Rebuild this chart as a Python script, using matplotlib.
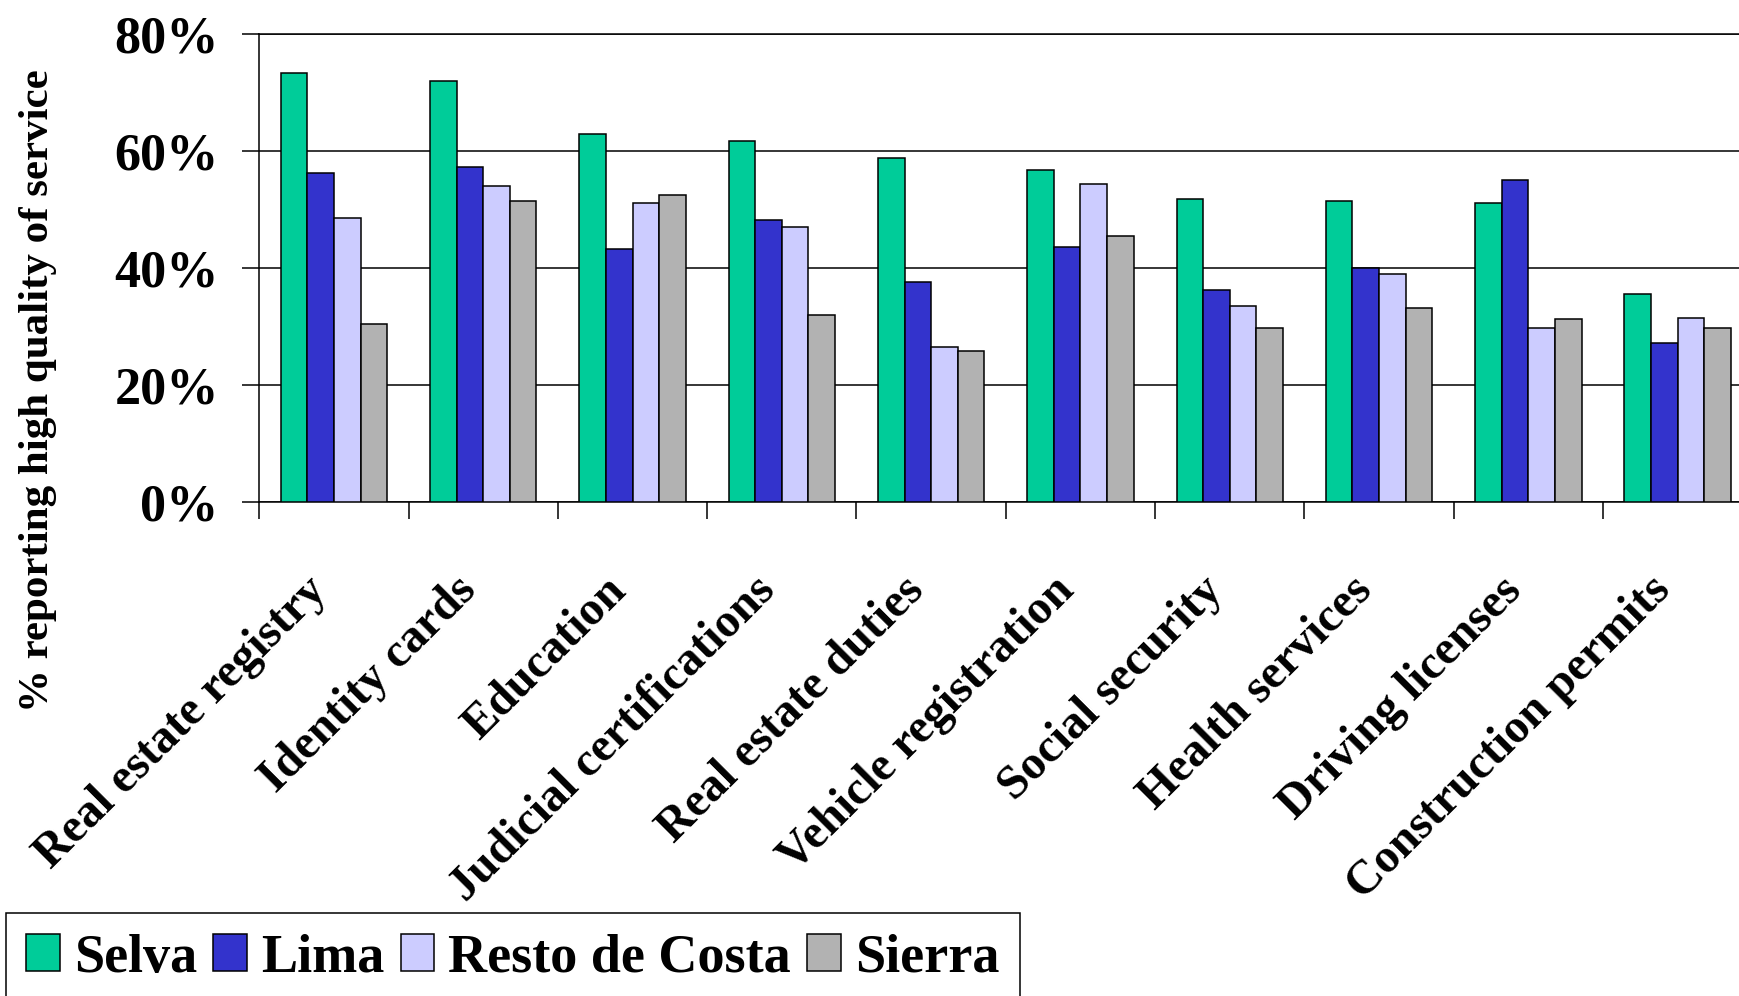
import matplotlib
matplotlib.use("Agg")
import matplotlib.pyplot as plt
import matplotlib.transforms as mtransforms
import numpy as np

services = ["Real estate registry", "Identity cards", "Education",
            "Judicial certifications", "Real estate duties", "Vehicle registration",
            "Social security", "Health services", "Driving licenses",
            "Construction permits"]
regions = ["Selva", "Lima", "Resto de Costa", "Sierra"]
colors = ["#00CC99", "#3333CC", "#CCCCFF", "#B2B2B2"]

selva = [73.3, 72.0, 62.8, 61.6, 58.8, 56.8, 51.7, 51.4, 51.0, 35.6]
lima = [56.2, 57.3, 43.3, 48.1, 37.5, 43.6, 36.3, 39.9, 55.0, 27.1]
resto = [48.5, 54.0, 51.0, 46.9, 26.4, 54.3, 33.4, 38.9, 29.8, 31.5]
sierra = [30.4, 51.4, 52.5, 31.9, 25.8, 45.5, 29.8, 33.1, 31.2, 29.8]

yticks = [0, 20, 40, 60, 80]
ytick_labels = ["0%", "20%", "40%", "60%", "80%"]

plt.rcParams['font.family'] = ['Liberation Serif', 'DejaVu Serif']
plt.rcParams['font.weight'] = 'bold'

fig = plt.figure(figsize=(17.4, 9.96), dpi=100)
ax = fig.add_axes([259.3 / 1740, 1 - 502 / 996, 1493 / 1740, 468.3 / 996])

x = np.arange(len(services))
w = 0.178
for k, (vals, lab, col) in enumerate(zip([selva, lima, resto, sierra], regions, colors)):
    ax.bar(x + (k - 1.5) * w, vals, width=w, color=col, edgecolor='black',
           linewidth=1.1, label=lab, zorder=3)

ax.set_xlim(-0.5, len(services) - 0.5)
ax.set_ylim(0, 80)
ax.set_yticks(yticks)
ax.set_yticklabels(ytick_labels, fontsize=37.5, fontweight='bold')
ax.tick_params(axis='y', direction='out', length=12.2, width=1.1, pad=17)
ax.yaxis.grid(True, color='black', linewidth=1.1, zorder=0)
ax.set_axisbelow(True)

ax.set_xticks([])
ax.set_xticks(np.arange(-0.5, len(services)), minor=True)
ax.tick_params(axis='x', which='minor', direction='out', length=12, width=1.1)

for s in ['left', 'bottom', 'top']:
    ax.spines[s].set_linewidth(1.1)
ax.spines['right'].set_visible(False)

offset = mtransforms.ScaledTranslation(2 / 100, -66 / 100, fig.dpi_scale_trans)
for i, name in enumerate(services):
    ax.text(i, 0, name, transform=ax.get_xaxis_transform() + offset,
            rotation=45, ha='right', va='top', fontsize=34.5, fontweight='bold')

fig.text(38 / 1740, 1 - 391 / 996, "% reporting high quality of service",
         rotation=90, ha='center', va='center', fontsize=31, fontweight='bold')

leg = fig.legend(loc='upper left', bbox_to_anchor=(5.5 / 1740, 1 - 913 / 996),
                 ncol=4, frameon=True, fancybox=False,
                 edgecolor='black', framealpha=1, borderaxespad=0, borderpad=0.38,
                 handlelength=0.62, handleheight=0.69, handletextpad=0.26,
                 columnspacing=0.3, prop={'weight': 'bold', 'size': 39})
leg.get_frame().set_linewidth(1.1)

fig.savefig("out.png", dpi=100)
